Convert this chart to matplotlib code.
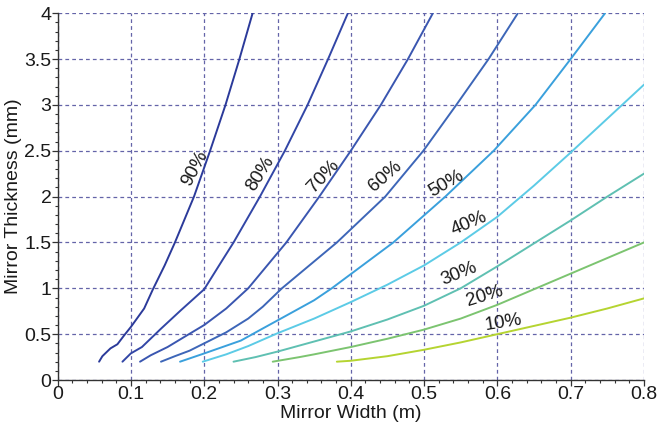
import matplotlib
matplotlib.use('Agg')
import matplotlib.pyplot as plt
from matplotlib.ticker import MultipleLocator, AutoMinorLocator, FuncFormatter

plt.rcParams['font.family'] = ['Liberation Sans', 'DejaVu Sans']

# curves: mirror width (m) -> thickness (mm)
w90 = [0.0565, 0.061, 0.072, 0.0815, 0.091, 0.100, 0.118, 0.130, 0.146, 0.160, 0.186, 0.208, 0.229, 0.248, 0.266]
t90 = [0.2, 0.26, 0.345, 0.39, 0.49, 0.58, 0.78, 0.99, 1.25, 1.5, 2.0, 2.5, 3.0, 3.5, 4.0]

w80 = [0.0884, 0.0998, 0.115, 0.128, 0.141, 0.168, 0.200, 0.225, 0.240, 0.276, 0.310, 0.341, 0.369, 0.396]
t80 = [0.2, 0.29, 0.36, 0.46, 0.56, 0.76, 0.99, 1.31, 1.5, 2.0, 2.5, 3.0, 3.5, 4.0]

w70 = [0.1124, 0.127, 0.150, 0.177, 0.200, 0.230, 0.260, 0.312, 0.357, 0.400, 0.441, 0.478, 0.512]
t70 = [0.2, 0.27, 0.36, 0.49, 0.60, 0.78, 1.0, 1.5, 2.0, 2.5, 3.0, 3.5, 4.0]

w60 = [0.141, 0.160, 0.180, 0.200, 0.230, 0.260, 0.280, 0.306, 0.381, 0.447, 0.499, 0.544, 0.588, 0.628]
t60 = [0.2, 0.26, 0.32, 0.40, 0.52, 0.67, 0.80, 1.0, 1.5, 2.0, 2.5, 3.0, 3.5, 4.0]

w50 = [0.167, 0.200, 0.250, 0.276, 0.300, 0.350, 0.374, 0.458, 0.529, 0.595, 0.652, 0.700, 0.747]
t50 = [0.2, 0.29, 0.43, 0.545, 0.65, 0.87, 1.0, 1.5, 2.0, 2.5, 3.0, 3.5, 4.0]

w40 = [0.198, 0.230, 0.260, 0.300, 0.350, 0.400, 0.450, 0.500, 0.550, 0.600, 0.650, 0.700, 0.750, 0.800]
t40 = [0.2, 0.28, 0.37, 0.51, 0.67, 0.85, 1.04, 1.25, 1.50, 1.78, 2.12, 2.48, 2.85, 3.22]

w30 = [0.240, 0.270, 0.300, 0.350, 0.400, 0.450, 0.500, 0.550, 0.600, 0.650, 0.700, 0.750, 0.800]
t30 = [0.2, 0.25, 0.31, 0.42, 0.53, 0.66, 0.81, 1.0, 1.24, 1.49, 1.74, 2.0, 2.25]

w20 = [0.2935, 0.330, 0.350, 0.400, 0.450, 0.500, 0.550, 0.600, 0.650, 0.700, 0.750, 0.800]
t20 = [0.2, 0.25, 0.28, 0.36, 0.45, 0.55, 0.67, 0.82, 0.99, 1.16, 1.33, 1.5]

w10 = [0.381, 0.400, 0.450, 0.500, 0.550, 0.600, 0.650, 0.700, 0.750, 0.800]
t10 = [0.2, 0.21, 0.26, 0.33, 0.41, 0.5, 0.59, 0.68, 0.78, 0.89]

curves = [(w90, t90), (w80, t80), (w70, t70), (w60, t60), (w50, t50),
          (w40, t40), (w30, t30), (w20, t20), (w10, t10)]
colors = ['#2b3a9a', '#3246a6', '#3a56b0', '#3d66b8', '#3aa0dc',
          '#5ccbe6', '#5fc0b2', '#7cc470', '#b5d431']

# curve labels
label_text = ['90%', '80%', '70%', '60%', '50%', '40%', '30%', '20%', '10%']
label_x = [0.187, 0.277, 0.363, 0.447, 0.530, 0.5615, 0.548, 0.583, 0.608]
label_y = [2.31, 2.25, 2.225, 2.217, 2.145, 1.709, 1.163, 0.909, 0.625]
label_rot = [62, 58, 47, 41, 30, 23, 22, 17, 9]

fig = plt.figure(figsize=(6.57, 4.28), dpi=100)
ax = fig.add_axes([0.0878, 0.1121, 0.8922, 0.8569])

for (w, t), c in zip(curves, colors):
    ax.plot(w, t, color=c, lw=1.4, solid_capstyle='round', solid_joinstyle='round', zorder=3)

for s, x, y, r in zip(label_text, label_x, label_y, label_rot):
    ax.text(x, y, s, rotation=r, rotation_mode='anchor', ha='center', va='center',
            fontsize=13.5, color='#1a1a1a', zorder=4)

ax.set_xlim(0, 0.8)
ax.set_ylim(0, 4)
ax.xaxis.set_major_locator(MultipleLocator(0.1))
ax.yaxis.set_major_locator(MultipleLocator(0.5))
ax.xaxis.set_minor_locator(AutoMinorLocator(5))
ax.yaxis.set_minor_locator(AutoMinorLocator(5))
ax.xaxis.set_major_formatter(FuncFormatter(lambda v, p: '%g' % round(v, 2)))
ax.yaxis.set_major_formatter(FuncFormatter(lambda v, p: '%g' % round(v, 2)))

ax.grid(True, which='major', color='#6464a8', linestyle=(0, (3, 2.5)), lw=0.9, zorder=1)
ax.spines['top'].set_visible(False)
ax.spines['right'].set_visible(False)
for sp in ['left', 'bottom']:
    ax.spines[sp].set_color('#333333')
    ax.spines[sp].set_linewidth(1.0)

ax.tick_params(which='major', direction='out', length=4, width=0.9, color='#333333',
               labelsize=14, labelcolor='#1a1a1a', pad=0.5)
ax.tick_params(which='minor', direction='out', length=2.5, width=0.8, color='#333333')

ax.set_xlabel('Mirror Width (m)', fontsize=14, color='#1a1a1a', labelpad=1)
ax.set_ylabel('Mirror Thickness (mm)', fontsize=14, color='#1a1a1a', labelpad=1.5)

fig.savefig('out.png', dpi=100)
